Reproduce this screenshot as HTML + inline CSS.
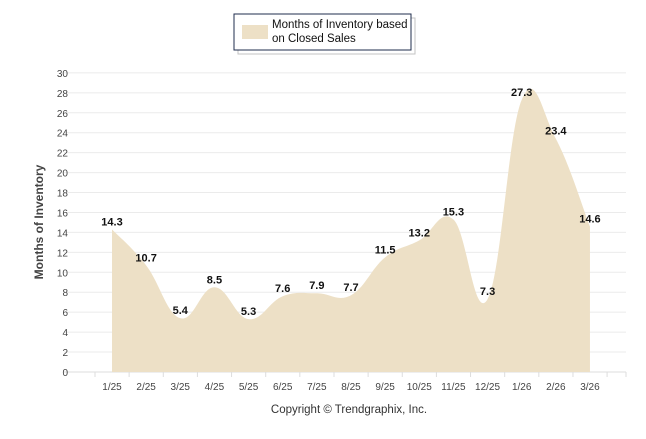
<!DOCTYPE html>
<html><head><meta charset="utf-8"><style>
body{margin:0;background:#fff;font-family:"Liberation Sans",Arial,sans-serif}
svg text{font-family:"Liberation Sans",Arial,sans-serif}
</style></head><body>
<svg id="c" width="646" height="434">
<g>
<rect x="236" y="16" width="177" height="36" fill="#fff" stroke="#888" stroke-width="1" opacity="0.5" transform="translate(2,2)"/>
<rect x="234" y="14" width="177" height="36" fill="#fff" stroke="#1f2d4d" stroke-width="1"/>
<rect x="242" y="25" width="26" height="14" fill="#ede0c6"/>
<text x="272" y="28" font-size="11.5" fill="#111">Months of Inventory based</text>
<text x="272" y="42" font-size="11.5" fill="#111">on Closed Sales</text>
</g>
<g id="grid"></g><g id="area"></g><g id="labels"></g>
<text transform="translate(43,222) rotate(-90)" text-anchor="middle" font-size="12" font-weight="bold" fill="#444">Months of Inventory</text>
<text x="349" y="413" text-anchor="middle" font-size="11.5" fill="#333">Copyright © Trendgraphix, Inc.</text>
</svg>
<script>
const categories=["1/25","2/25","3/25","4/25","5/25","6/25","7/25","8/25","9/25","10/25","11/25","12/25","1/26","2/26","3/26"];
const values=[14.3,10.7,5.4,8.5,5.3,7.6,7.9,7.7,11.5,13.2,15.3,7.3,27.3,23.4,14.6];
const yTicks=[0,2,4,6,8,10,12,14,16,18,20,22,24,26,28,30];
const NS="http://www.w3.org/2000/svg";
const X=i=>112+34.14*i, Y=v=>372-v*9.97;
function mk(t,a,p){const e=document.createElementNS(NS,t);for(const k in a)e.setAttribute(k,a[k]);p.appendChild(e);return e;}
const g=document.getElementById('grid');
yTicks.forEach(t=>{
 const l=mk('line',{x1:64,x2:626,y1:Y(t),y2:Y(t),stroke:t===0?'#ddd':'#ebebeb','stroke-width':1},g);
 
 
 const tx=mk('text',{x:68,y:Y(t)+4,'text-anchor':'end','font-size':10,fill:'#444'},g);tx.textContent=t;
 
 
});
mk('line',{x1:626,x2:626,y1:372,y2:377,stroke:'#ddd'},g);
for(let i=0;i<=categories.length;i++)mk('line',{x1:X(i)-17,x2:X(i)-17,y1:372,y2:377,stroke:'#ddd'},g);
categories.forEach((c,i)=>{
 const tx=mk('text',{x:X(i),y:390,'text-anchor':'middle','font-size':10,fill:'#444'},g);tx.textContent=c;
 
 
});
const pts=values.map((v,i)=>[X(i),Y(v)]);
let d=`M${pts[0][0]},${Y(0)} L${pts[0][0]},${pts[0][1]}`;
for(let i=0;i<pts.length-1;i++){
 const p0=pts[Math.max(i-1,0)],p1=pts[i],p2=pts[i+1],p3=pts[Math.min(i+2,pts.length-1)];
 const t=0.2;
 const c1=[p1[0]+(p2[0]-p0[0])*t,p1[1]+(p2[1]-p0[1])*t];
 const c2=[p2[0]-(p3[0]-p1[0])*t,p2[1]-(p3[1]-p1[1])*t];
 d+=` C${c1[0]},${c1[1]} ${c2[0]},${c2[1]} ${p2[0]},${p2[1]}`;
}
d+=` L${pts[pts.length-1][0]},${Y(0)} Z`;
const a=mk('path',{d:d,fill:'#ede0c6'},document.getElementById('area'));


const lg=document.getElementById('labels');
values.forEach((v,i)=>{
 const tx=mk('text',{x:X(i),y:Y(v)-4,'text-anchor':'middle','font-size':11,'font-weight':'bold',fill:'#111'},lg);
 tx.textContent=v.toFixed(1);
 
 
});
</script>
</body></html>
